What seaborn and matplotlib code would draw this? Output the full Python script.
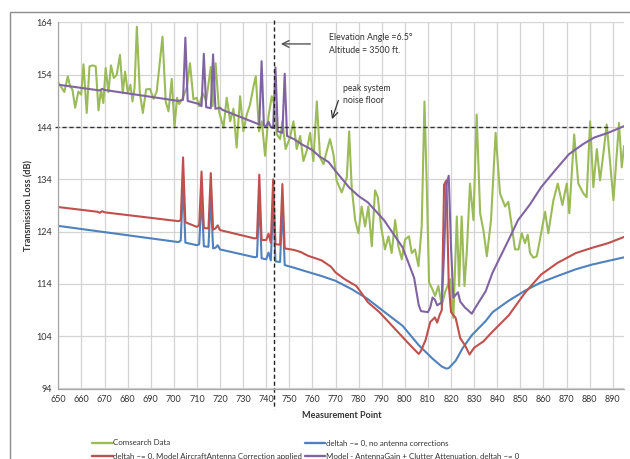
import matplotlib
matplotlib.use("Agg")
import matplotlib.pyplot as plt
import pandas as pd
import seaborn as sns
from matplotlib.lines import Line2D

# Comsearch measured data
green_x = [650, 651.5, 652.6, 654.1, 655.1, 656.1, 657.3, 658.7, 659.9, 660.9, 662.3, 663.5, 664.9, 666.2,
           667.4, 668.5, 669.5, 670.5, 671.7, 672.8, 674.0, 675.3, 676.7, 677.9, 678.9, 680.1, 681.2, 682.1,
           683.0, 684.0, 685.3, 686.6, 688.0, 689.7, 691.2, 692.6, 695.1, 696.5, 697.7, 699.1, 700.3, 701.4,
           702.3, 703.7, 705.6, 707.0, 708.5, 709.9, 710.9, 712.5, 714.0, 716.0, 716.8, 718.1, 719.6, 721.5,
           722.9, 724.4, 725.8, 727.2, 728.7, 730.1, 731.6, 733.0, 734.5, 735.5, 736.9, 738.1, 739.5, 741.0,
           742.4, 743.5, 744.6, 746.0, 747.0, 748.4, 750.3, 751.8, 753.2, 754.7, 756.1, 757.5, 759.0, 760.4,
           761.9, 763.3, 764.8, 766.2, 767.6, 769.1, 770.5, 772.7, 774.9, 775.9, 777.0, 778.5, 779.9, 781.3,
           782.8, 784.2, 785.7, 787.1, 788.3, 789.7, 791.4, 792.9, 794.3, 795.8, 797.2, 798.7, 800.1, 801.8,
           803.0, 804.4, 805.9, 807.3, 808.5, 809.5, 810.5, 811.9, 813.1, 814.5, 816.0, 817.4, 819.6, 821.0,
           822.5, 823.5, 824.6, 825.8, 826.8, 828.2, 829.7, 831.1, 832.6, 834.0, 835.5, 837.3, 839.3, 841.2,
           843.4, 844.8, 846.3, 847.7, 849.2, 850.6, 852.0, 853.2, 854.2, 855.7, 857.1, 858.5, 860.7, 862.1,
           864.3, 866.2, 868.2, 870.1, 871.2, 873.3, 875.1, 877.3, 878.7, 880.2, 881.6, 883.1, 884.5, 885.9,
           887.4, 890.3, 892.7, 893.9, 894.9]
green_y = [152.5, 151.5, 150.7, 153.7, 151.8, 151.2, 147.7, 150.8, 150.2, 156.0, 146.7, 155.6, 155.8, 155.6,
           147.2, 151.2, 148.6, 155.3, 150.7, 155.8, 153.4, 154.0, 157.8, 150.5, 154.6, 150.5, 152.1, 148.9,
           151.5, 163.2, 150.5, 146.7, 151.2, 151.3, 149.4, 150.8, 161.3, 148.9, 147.0, 153.2, 144.0, 149.6,
           148.4, 149.4, 151.5, 156.2, 149.3, 149.6, 148.0, 150.5, 149.0, 155.5, 148.0, 156.2, 146.9, 143.9,
           149.6, 145.1, 147.5, 140.1, 149.9, 143.2, 146.4, 148.3, 151.8, 153.7, 143.2, 145.1, 138.5, 146.1,
           149.9, 148.3, 142.6, 141.7, 145.1, 139.8, 142.0, 145.1, 139.8, 142.3, 137.5, 139.4, 142.9, 137.5,
           148.9, 138.2, 136.9, 139.4, 141.7, 138.8, 133.7, 131.5, 134.4, 143.2, 132.5, 126.2, 123.7, 128.8,
           125.0, 128.8, 121.2, 131.9, 130.6, 125.0, 120.6, 123.1, 119.9, 126.2, 121.2, 118.7, 122.5, 123.1,
           119.9, 120.6, 117.4, 125.0, 148.9, 132.5, 114.3, 113.0, 111.7, 113.6, 109.9, 112.4, 114.9, 107.5,
           126.9, 113.6, 126.9, 113.6, 119.9, 133.2, 126.2, 146.4, 127.5, 124.3, 119.3, 126.2, 142.9, 131.3,
           128.8, 129.7, 125.0, 120.6, 120.6, 123.7, 121.8, 123.4, 119.9, 119.0, 119.3, 122.5, 127.8, 123.7,
           130.0, 133.2, 129.1, 133.2, 127.5, 142.6, 133.2, 131.3, 130.6, 145.1, 132.5, 139.8, 133.8, 138.8,
           144.5, 130.0, 144.8, 136.3, 140.4]

# deltah ~= 0, no antenna corrections
blue_x = [650, 702, 703, 704, 705, 710, 711, 712, 713, 715, 716, 717, 718, 719, 720, 735, 736, 737, 738,
          740, 741, 742, 743, 744, 746, 747, 748, 752, 758, 764, 770, 777, 784, 791, 799, 806, 812, 816,
          818, 819, 822, 825, 829, 835, 838, 845, 852, 859, 866, 874, 881, 888, 895]
blue_y = [125.1, 122.0, 122.3, 133.4, 121.9, 121.4, 121.6, 131.0, 121.2, 121.1, 130.8, 120.8, 120.9, 121.4,
          120.6, 119.1, 119.2, 130.5, 118.9, 118.7, 120.0, 118.5, 130.0, 118.3, 118.2, 129.5, 117.6, 117.1,
          116.3, 115.5, 114.6, 113.0, 111.1, 108.7, 106.0, 102.3, 99.7, 98.2, 97.8, 97.9, 99.3, 101.7, 104.2,
          106.9, 108.6, 110.8, 112.7, 114.3, 115.5, 116.8, 117.7, 118.4, 119.1]

# deltah ~= 0, Model AircraftAntenna Correction applied
red_x = [650, 667, 668, 669, 670, 702, 703, 704, 705, 710, 711, 712, 713, 715, 716, 717, 718, 719, 720,
         735, 736, 737, 738, 740, 741, 742, 743, 744, 746, 747, 748, 752, 755, 758, 764, 768, 770, 774, 779,
         781, 784, 789, 793, 797, 801, 806, 807, 809, 811, 813, 814, 815, 816, 817, 818, 819, 820, 822, 824,
         826, 828, 830, 834, 838, 845, 852, 859, 866, 874, 881, 888, 895]
red_y = [128.7, 127.8, 127.6, 127.9, 127.7, 126.0, 126.2, 138.2, 125.8, 124.9, 125.3, 135.5, 124.7, 124.6,
         135.2, 124.4, 124.6, 125.2, 124.3, 122.7, 122.8, 134.9, 122.4, 122.4, 123.6, 121.9, 134.0, 121.6,
         121.5, 133.1, 120.8, 120.5, 120.1, 119.4, 118.5, 117.3, 116.2, 114.9, 113.6, 112.4, 110.5, 108.6,
         106.7, 104.8, 102.9, 100.6, 101.2, 103.3, 106.7, 107.6, 106.6, 108.0, 109.0, 133.0, 133.8, 114.0,
         108.6, 107.5, 103.6, 102.3, 100.5, 101.8, 103.0, 104.9, 108.0, 112.3, 115.8, 118.0, 119.9, 120.9,
         121.8, 123.0]

# Model - AntennaGain + Clutter Attenuation, deltah ~= 0
purple_x = [650, 668, 669, 670, 702, 703, 704, 705, 706, 711, 712, 713, 714, 716, 717, 718, 720, 721, 737,
            738, 739, 740, 741, 742, 743, 744, 745, 747, 748, 749, 752, 755, 760, 763, 767, 770, 776, 780,
            784, 791, 799, 804, 806, 807, 810, 811, 812, 813, 814, 816, 817, 818, 819, 820, 821, 823, 824,
            826, 829, 831, 835, 838, 845, 849, 854, 859, 865, 871, 877, 882, 888, 895]
purple_y = [152.1, 151.0, 151.3, 151.1, 149.0, 149.1, 149.2, 161.1, 149.0, 148.4, 148.0, 158.0, 147.8, 147.6,
            157.9, 147.5, 147.7, 147.3, 144.5, 156.6, 144.3, 144.2, 145.0, 144.0, 143.8, 155.4, 143.2, 142.9,
            154.2, 142.3, 141.7, 140.8, 139.6, 138.4, 137.3, 135.6, 132.4, 130.8, 129.6, 126.2, 121.0, 115.2,
            110.0, 108.8, 108.6, 109.5, 111.4, 111.0, 109.9, 110.5, 120.0, 133.0, 134.7, 121.0, 111.4, 112.4,
            110.6, 109.5, 108.3, 109.8, 112.6, 116.2, 122.5, 126.2, 129.1, 132.5, 135.7, 138.8, 140.7, 142.0,
            142.9, 144.2]

labels = ["Comsearch Data",
          "deltah ~= 0, no antenna corrections",
          "deltah ~= 0, Model AircraftAntenna Correction applied",
          "Model - AntennaGain + Clutter Attenuation, deltah ~= 0"]
colors = ["#9bbb59", "#4f81bd", "#c0504d", "#8064a2"]

elevation_x = 743.5
noise_floor = 144

frames = []
for name, xs, ys in zip(labels, [green_x, blue_x, red_x, purple_x], [green_y, blue_y, red_y, purple_y]):
    frames.append(pd.DataFrame({"point": xs, "loss": ys, "series": name}))
df = pd.concat(frames, ignore_index=True)

sns.set_theme(style="whitegrid")
plt.rcParams["font.family"] = ["Lato", "DejaVu Sans"]
text_col = "#333333"

fig = plt.figure(figsize=(6.3, 4.59), dpi=100)
ax = fig.add_axes([58.3 / 630, 1 - 388.5 / 459, 566 / 630, 366 / 459])

sns.lineplot(data=df, x="point", y="loss", hue="series", hue_order=labels,
             palette=dict(zip(labels, colors)), estimator=None, sort=False,
             lw=1.5, ax=ax, legend=False)

ax.set_xlim(650, 895)
ax.set_ylim(94, 164)
ax.set_xticks(range(650, 891, 10))
ax.set_yticks(range(94, 165, 10))
ax.grid(True, color="#d4d4d4", lw=0.9)
for side in ["top", "right"]:
    ax.spines[side].set_visible(False)
for side in ["left", "bottom"]:
    ax.spines[side].set_color("#a6a6a6")
    ax.spines[side].set_linewidth(0.9)
ax.tick_params(axis="both", labelsize=6.5, colors="#a6a6a6", labelcolor=text_col, length=2.5, width=0.8, pad=2)
ax.tick_params(axis="x", length=0, pad=5)

ax.set_xlabel("Measurement Point", fontsize=6.5, fontweight="bold", color=text_col)
ax.set_ylabel("Transmission Loss (dB)", fontsize=6.5, fontweight="bold", color=text_col)
ax.xaxis.set_label_coords(0.5, -0.062)
ax.yaxis.set_label_coords(-0.044, 0.5)

# reference lines
ax.plot([elevation_x, elevation_x], [164.5, 90.1], ls=(0, (3, 2)), color="#222222", lw=1.0, clip_on=False)
ax.plot([648.6, 887.9], [noise_floor, noise_floor], ls=(0, (3, 2)), color="#333333", lw=1.0, clip_on=False)

ax.annotate("", xy=(745.1, 159.9), xytext=(760.3, 159.9),
            arrowprops=dict(arrowstyle="->", color="#555555", lw=1.0))
ax.text(767.3, 161.1, "Elevation Angle =6.5\u00b0", fontsize=6.3, va="center", color=text_col)
ax.text(767.3, 158.6, "Altitude = 3500 ft.", fontsize=6.3, va="center", color=text_col)
ax.text(773.1, 151.3, "peak system", fontsize=6.3, va="center", color=text_col)
ax.text(773.1, 149.0, "noise floor", fontsize=6.3, va="center", color=text_col)
ax.annotate("", xy=(768.1, 145.0), xytext=(771.6, 149.6),
            arrowprops=dict(arrowstyle="->", color="#333333", lw=0.9))

# legend is filled column by column, so reorder to get Excel's row layout
order = [0, 2, 1, 3]
handles = [Line2D([], [], color=colors[i], lw=1.7) for i in order]
fig.legend(handles, [labels[i] for i in order], ncol=2, loc="upper left",
           bbox_to_anchor=(88 / 630, 1 - 435.5 / 459),
           frameon=False, fontsize=5.7, handlelength=2.6, handletextpad=0.1, columnspacing=0.3,
           labelspacing=0.85, borderpad=0, labelcolor=text_col)

# outer chart frame
fig.add_artist(plt.Rectangle((10 / 630, -0.1), 1.2, 1 - 12 / 459 + 0.1, transform=fig.transFigure,
                             fill=False, ec="#8c8c8c", lw=1.0))

fig.savefig("out.png", dpi=100)
